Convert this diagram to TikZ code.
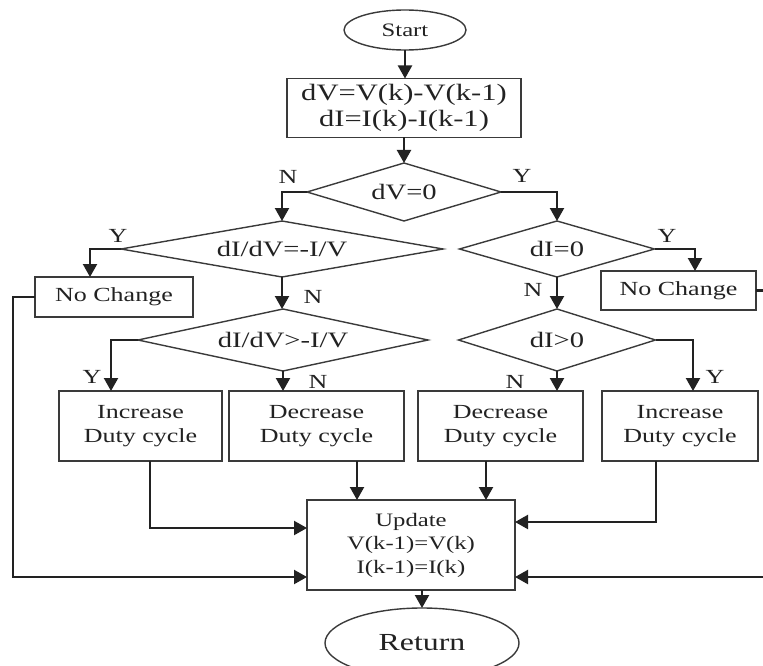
\documentclass[tikz,border=0pt]{standalone}
\usepackage{fontspec}
\setmainfont{Liberation Serif}[FakeStretch=1.3]
\usetikzlibrary{shapes.geometric,arrows.meta,calc}
\definecolor{ink}{HTML}{222222}
\definecolor{edge}{HTML}{3A3A3A}
\begin{document}
\begin{tikzpicture}[x=1pt,y=-1pt,
  box/.style={draw=edge,line width=1.4pt,rectangle,inner sep=0pt,outer sep=0pt,align=center,text=ink},
  dia/.style={draw=edge,line width=1.4pt,diamond,inner sep=0pt,outer sep=0pt,text=ink,font=\fontsize{22}{24}\selectfont},
  oval/.style={draw=edge,line width=1.4pt,ellipse,inner sep=0pt,outer sep=0pt,text=ink},
  arr/.style={draw=ink,line width=2.2pt,-{Triangle[length=13pt,width=14pt]}},
  lbl/.style={text=ink,font=\fontsize{20}{22}\selectfont,inner sep=0pt},
  bodyfont/.style={font=\fontsize{20}{24}\selectfont}
]
\useasboundingbox (0,0) rectangle (763,666);
\clip (0,0) rectangle (763,666);

% nodes
\node[oval,minimum width=122pt,minimum height=40pt,font=\fontsize{19}{22}\selectfont] (start) at (405,30) {Start};
\node[box,minimum width=234pt,minimum height=59pt,font=\fontsize{23.5}{25.5}\selectfont] (calc) at (404,108) {dV=V(k)-V(k-1)\\dI=I(k)-I(k-1)};
\node[dia,aspect=3.35,minimum width=194pt,minimum height=58pt] (d1) at (404,192) {dV=0};
\node[dia,aspect=5.75,minimum width=322pt,minimum height=56pt] (d2) at (282,249) {dI/dV=-I/V};
\node[dia,aspect=3.48,minimum width=195pt,minimum height=56pt] (d3) at (557,249) {dI=0};
\node[dia,aspect=4.68,minimum width=290pt,minimum height=62pt] (d4) at (283,340) {dI/dV>-I/V};
\node[dia,aspect=3.18,minimum width=197pt,minimum height=62pt] (d5) at (557,340) {dI>0};

\node[box,bodyfont,minimum width=158pt,minimum height=40pt] (nc1) at (114,297) {No Change};
\node[box,bodyfont,minimum width=155pt,minimum height=39pt] (nc2) at (678.5,290.5) {No Change};

\node[box,bodyfont,minimum width=163pt,minimum height=70pt] (inc1) at (140.5,426) {Increase\\Duty cycle};
\node[box,bodyfont,minimum width=175pt,minimum height=70pt] (dec1) at (316.5,426) {Decrease\\Duty cycle};
\node[box,bodyfont,minimum width=165pt,minimum height=70pt] (dec2) at (500.5,426) {Decrease\\Duty cycle};
\node[box,bodyfont,minimum width=156pt,minimum height=70pt] (inc2) at (680,426) {Increase\\Duty cycle};

\node[box,minimum width=208pt,minimum height=90pt,font=\fontsize{19}{23.5}\selectfont] (upd) at (411,545) {Update\\V(k-1)=V(k)\\I(k-1)=I(k)};
\node[oval,minimum width=194pt,minimum height=70pt,font=\fontsize{24.5}{26}\selectfont] (ret) at (422,643) {Return};

\coordinate (lbend) at (13,577);
\coordinate (rbend) at (780,577);

% labels
\node[lbl] (n1) at (288,177) {N};
\node[lbl] (y1) at (522,176) {Y};
\node[lbl] (y2) at (118,236) {Y};
\node[lbl] (n2) at (313,297) {N};
\node[lbl] (y3) at (667,236) {Y};
\node[lbl] (n3) at (533,290) {N};
\node[lbl] (y4) at (92,377) {Y};
\node[lbl] (n4) at (318,382) {N};
\node[lbl] (n5) at (515,382) {N};
\node[lbl] (y5) at (715,377) {Y};

% connectors
\draw[arr] (start.south) -- (start.south |- calc.north);
\draw[arr] (calc.south) -- (d1.north);
\draw[arr] (d1.west) -| (d2.north);
\draw[arr] (d1.east) -| (d3.north);
\draw[arr] (d2.west) -| ([xshift=-24pt]nc1.north);
\draw[arr] (d2.south) -- (d2.south |- d4.north);
\draw[arr] (d3.east) -| ([xshift=16.5pt]nc2.north);
\draw[arr] (d3.south) -- (d5.north);
\draw[arr] (d4.west) -| ([xshift=-29.5pt]inc1.north);
\draw[arr] (d4.south) -- (d4.south |- dec1.north);
\draw[arr] (d5.south) -- (d5.south |- dec2.north);
\draw[arr] (d5.east) -| ([xshift=13pt]inc2.north);

\draw[arr] ([xshift=9.5pt]inc1.south) |- ([yshift=17pt]upd.west);
\draw[arr] ([xshift=40.5pt]dec1.south) -- ([xshift=40.5pt]dec1.south |- upd.north);
\draw[arr] ([xshift=-14.5pt]dec2.south) -- ([xshift=-14.5pt]dec2.south |- upd.north);
\draw[arr] ([xshift=-24pt]inc2.south) |- ([yshift=23pt]upd.east);

\draw[arr] (nc1.west) -| (lbend) -- (lbend -| upd.west);
\draw[arr] (nc2.east) -| (rbend) -- (rbend -| upd.east);

\draw[arr] (upd.south -| ret.north) -- (ret.north);
\end{tikzpicture}
\end{document}
